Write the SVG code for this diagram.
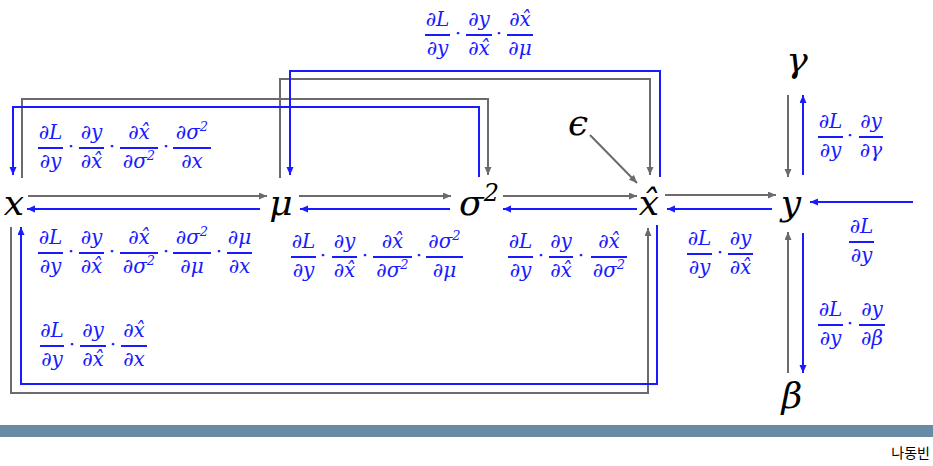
<svg xmlns="http://www.w3.org/2000/svg" width="933" height="466" viewBox="0 0 933 466">
<style>
.node{font-family:"DejaVu Serif",serif;font-style:italic;font-size:36px;fill:#000;text-anchor:middle}
.f{font-family:"DejaVu Serif",serif;font-style:italic;font-size:20px;fill:#1a1aff;text-anchor:middle}
.bar{stroke:#1a1aff;stroke-width:2}
.g{fill:none;stroke:#6b6b6b;stroke-width:2}
.b{fill:none;stroke:#1a1aff;stroke-width:2}
.sig{font-family:"Noto Sans CJK KR","Noto Sans",sans-serif;font-size:14px;fill:#000;text-anchor:end}
.sup{font-size:13px}
</style>
<defs>
<marker id="ag" markerUnits="userSpaceOnUse" markerWidth="9" markerHeight="8" refX="8" refY="3.5" orient="auto"><path d="M0,0 L8,3.5 L0,7 z" fill="#6b6b6b"/></marker>
<marker id="ab" markerUnits="userSpaceOnUse" markerWidth="9" markerHeight="8" refX="8" refY="3.5" orient="auto"><path d="M0,0 L8,3.5 L0,7 z" fill="#1a1aff"/></marker>
</defs>
<rect x="0" y="0" width="933" height="466" fill="#fff"/>
<g id="connectors">
<path class="g" d="M28,196 H267" marker-end="url(#ag)"/>
<path class="g" d="M299,196 H451" marker-end="url(#ag)"/>
<path class="g" d="M503,196 H637" marker-end="url(#ag)"/>
<path class="g" d="M665,195 H776" marker-end="url(#ag)"/>
<path class="g" d="M788,95 V177" marker-end="url(#ag)"/>
<path class="g" d="M788,373 V232" marker-end="url(#ag)"/>
<path class="g" d="M590,135 L637,183" marker-end="url(#ag)"/>
<path class="g" d="M22,178 V99 H488 V175" marker-end="url(#ag)"/>
<path class="g" d="M280,178 V79 H650 V175" marker-end="url(#ag)"/>
<path class="g" d="M11,227 V393 H648 V228" marker-end="url(#ag)"/>
<path class="b" d="M260,209 H27" marker-end="url(#ab)"/>
<path class="b" d="M450,209 H300" marker-end="url(#ab)"/>
<path class="b" d="M637,209 H503" marker-end="url(#ab)"/>
<path class="b" d="M772,209 H667" marker-end="url(#ab)"/>
<path class="b" d="M913,202 H810" marker-end="url(#ab)"/>
<path class="b" d="M803,175 V95" marker-end="url(#ab)"/>
<path class="b" d="M803,233 V373" marker-end="url(#ab)"/>
<path class="b" d="M479,177 V107 H13 V175" marker-end="url(#ab)"/>
<path class="b" d="M660,177 V71 H290 V175" marker-end="url(#ab)"/>
<path class="b" d="M657,225 V384 H21 V227" marker-end="url(#ab)"/>
</g>
<g id="node-x"><text class="node" x="14" y="215">x</text></g>
<g id="node-mu"><text class="node" x="281" y="215">μ</text></g>
<g id="node-sigma2"><text class="node" x="479" y="215">σ<tspan font-size="24" dy="-14">2</tspan></text></g>
<g id="node-xhat"><text class="node" x="649" y="215">x̂</text></g>
<g id="node-y"><text class="node" x="791" y="215">y</text></g>
<g id="node-gamma"><text class="node" x="797" y="72">γ</text></g>
<g id="node-beta"><text class="node" x="792" y="408">β</text></g>
<g id="node-eps"><text class="node" x="578" y="135">ϵ</text></g>

<g id="label-x-sigma">
<line class="bar" x1="38" y1="148" x2="63" y2="148"/><text class="f" x="50.5" y="139">∂L</text><text class="f" x="50.5" y="168">∂y</text>
<text class="f" x="71" y="153">⋅</text>
<line class="bar" x1="79" y1="148" x2="104" y2="148"/><text class="f" x="91.5" y="139">∂y</text><text class="f" x="91.5" y="168">∂x̂</text>
<text class="f" x="112" y="153">⋅</text>
<line class="bar" x1="120" y1="148" x2="158" y2="148"/><text class="f" x="139" y="139">∂x̂</text><text class="f" x="139" y="168">∂σ<tspan class="sup" dy="-8">2</tspan></text>
<text class="f" x="166" y="153">⋅</text>
<line class="bar" x1="173" y1="148" x2="211" y2="148"/><text class="f" x="192" y="139">∂σ<tspan class="sup" dy="-8">2</tspan></text><text class="f" x="192" y="168">∂x</text>
</g>

<g id="label-mu-x">
<line class="bar" x1="38" y1="253" x2="63" y2="253"/><text class="f" x="50.5" y="244">∂L</text><text class="f" x="50.5" y="273">∂y</text>
<text class="f" x="71" y="258">⋅</text>
<line class="bar" x1="79" y1="253" x2="104" y2="253"/><text class="f" x="91.5" y="244">∂y</text><text class="f" x="91.5" y="273">∂x̂</text>
<text class="f" x="112" y="258">⋅</text>
<line class="bar" x1="120" y1="253" x2="158" y2="253"/><text class="f" x="139" y="244">∂x̂</text><text class="f" x="139" y="273">∂σ<tspan class="sup" dy="-8">2</tspan></text>
<text class="f" x="166" y="258">⋅</text>
<line class="bar" x1="173" y1="253" x2="211" y2="253"/><text class="f" x="192" y="244">∂σ<tspan class="sup" dy="-8">2</tspan></text><text class="f" x="192" y="273">∂μ</text>
<text class="f" x="219" y="258">⋅</text>
<line class="bar" x1="227" y1="253" x2="252" y2="253"/><text class="f" x="239.5" y="244">∂μ</text><text class="f" x="239.5" y="273">∂x</text>
</g>

<g id="label-xhat-x">
<line class="bar" x1="40" y1="346" x2="64" y2="346"/><text class="f" x="52" y="337">∂L</text><text class="f" x="52" y="366">∂y</text>
<text class="f" x="72" y="351">⋅</text>
<line class="bar" x1="80" y1="346" x2="106" y2="346"/><text class="f" x="93" y="337">∂y</text><text class="f" x="93" y="366">∂x̂</text>
<text class="f" x="113" y="351">⋅</text>
<line class="bar" x1="121" y1="346" x2="147" y2="346"/><text class="f" x="134" y="337">∂x̂</text><text class="f" x="134" y="366">∂x</text>
</g>

<g id="label-xhat-mu">
<line class="bar" x1="425" y1="35" x2="450" y2="35"/><text class="f" x="437.5" y="26">∂L</text><text class="f" x="437.5" y="55">∂y</text>
<text class="f" x="458" y="40">⋅</text>
<line class="bar" x1="466" y1="35" x2="492" y2="35"/><text class="f" x="479" y="26">∂y</text><text class="f" x="479" y="55">∂x̂</text>
<text class="f" x="499" y="40">⋅</text>
<line class="bar" x1="507" y1="35" x2="533" y2="35"/><text class="f" x="520" y="26">∂x̂</text><text class="f" x="520" y="55">∂μ</text>
</g>

<g id="label-sigma-mu">
<line class="bar" x1="291" y1="257" x2="316" y2="257"/><text class="f" x="303.5" y="248">∂L</text><text class="f" x="303.5" y="277">∂y</text>
<text class="f" x="323" y="262">⋅</text>
<line class="bar" x1="332" y1="257" x2="357" y2="257"/><text class="f" x="344.5" y="248">∂y</text><text class="f" x="344.5" y="277">∂x̂</text>
<text class="f" x="365" y="262">⋅</text>
<line class="bar" x1="373" y1="257" x2="412" y2="257"/><text class="f" x="392.5" y="248">∂x̂</text><text class="f" x="392.5" y="277">∂σ<tspan class="sup" dy="-8">2</tspan></text>
<text class="f" x="419" y="262">⋅</text>
<line class="bar" x1="426" y1="257" x2="463" y2="257"/><text class="f" x="444.5" y="248">∂σ<tspan class="sup" dy="-8">2</tspan></text><text class="f" x="444.5" y="277">∂μ</text>
</g>

<g id="label-xhat-sigma">
<line class="bar" x1="508" y1="257" x2="533" y2="257"/><text class="f" x="520.5" y="248">∂L</text><text class="f" x="520.5" y="277">∂y</text>
<text class="f" x="541" y="262">⋅</text>
<line class="bar" x1="549" y1="257" x2="573" y2="257"/><text class="f" x="561" y="248">∂y</text><text class="f" x="561" y="277">∂x̂</text>
<text class="f" x="581" y="262">⋅</text>
<line class="bar" x1="591" y1="257" x2="627" y2="257"/><text class="f" x="609" y="248">∂x̂</text><text class="f" x="609" y="277">∂σ<tspan class="sup" dy="-8">2</tspan></text>
</g>

<g id="label-y-xhat">
<line class="bar" x1="687" y1="254" x2="712" y2="254"/><text class="f" x="699.5" y="245">∂L</text><text class="f" x="699.5" y="274">∂y</text>
<text class="f" x="720" y="259">⋅</text>
<line class="bar" x1="728" y1="254" x2="753" y2="254"/><text class="f" x="740.5" y="245">∂y</text><text class="f" x="740.5" y="274">∂x̂</text>
</g>

<g id="label-in-y">
<line class="bar" x1="849" y1="242" x2="874" y2="242"/><text class="f" x="861.5" y="233">∂L</text><text class="f" x="861.5" y="262">∂y</text>
</g>

<g id="label-y-gamma">
<line class="bar" x1="818" y1="137" x2="843" y2="137"/><text class="f" x="830.5" y="128">∂L</text><text class="f" x="830.5" y="157">∂y</text>
<text class="f" x="850" y="142">⋅</text>
<line class="bar" x1="859" y1="137" x2="883" y2="137"/><text class="f" x="871" y="128">∂y</text><text class="f" x="871" y="157">∂γ</text>
</g>

<g id="label-y-beta">
<line class="bar" x1="818" y1="325" x2="843" y2="325"/><text class="f" x="830.5" y="316">∂L</text><text class="f" x="830.5" y="345">∂y</text>
<text class="f" x="850" y="330">⋅</text>
<line class="bar" x1="859" y1="325" x2="885" y2="325"/><text class="f" x="872" y="316">∂y</text><text class="f" x="872" y="345">∂β</text>
</g>

<rect x="0" y="425" width="933" height="12" fill="#688ca6"/>
<text class="sig" x="930" y="458">나동빈</text>
</svg>
